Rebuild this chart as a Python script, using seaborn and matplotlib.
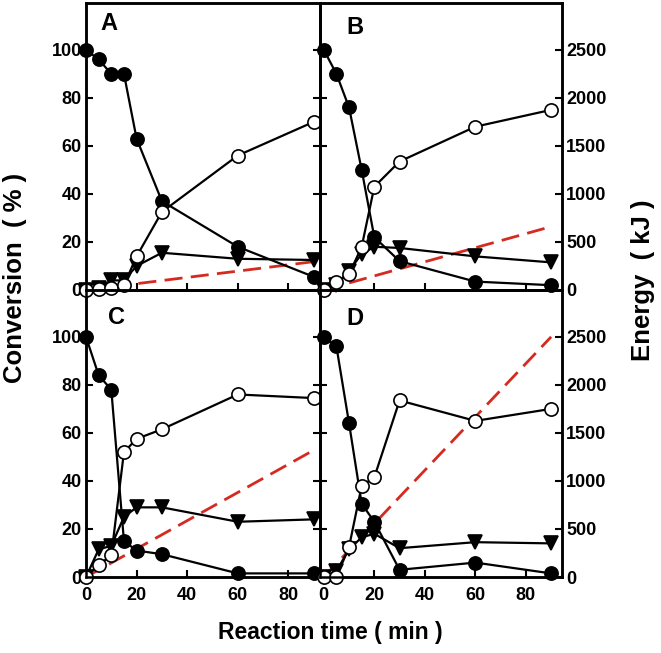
import matplotlib
matplotlib.use("Agg")
import matplotlib.pyplot as plt
import seaborn as sns
import pandas as pd

sns.set_style("ticks")
plt.rcParams['font.family'] = ['Liberation Sans', 'DejaVu Sans']
plt.rcParams['font.weight'] = 'bold'
for k in ("text.color", "axes.labelcolor", "xtick.color", "ytick.color"):
    plt.rcParams[k] = "black"

time = [0, 5, 10, 15, 20, 30, 60, 90]
energy_time = [0, 90]

# panel A
a_filled = [100, 96, 90, 90, 63, 37, 18, 5.5]
a_open = [0, 0.5, 1, 2, 14, 32.5, 56, 70]
a_tri = [0, 1, 4, 4, 10, 15.5, 13, 12.5]
a_energy = [0, 295]
# panel B
b_filled = [100, 90, 76, 50, 22, 12, 3.5, 2]
b_open = [0, 3.5, 6.5, 18, 43, 53.5, 68, 75]
b_tri = [0, 2, 8, 15, 18, 17.5, 14, 11.5]
b_energy = [0, 660]
# panel C
c_filled = [100, 84, 78, 15, 11, 9.5, 1.5, 1.5]
c_open = [0, 5, 9, 52, 57.5, 61.5, 76, 74.5]
c_tri = [0, 11.5, 13, 25, 29, 29, 23, 24]
c_energy = [0, 1320]
# panel D
d_filled = [100, 96, 64, 30.5, 23, 3, 6, 1.5]
d_open = [0, 0, 12.5, 38, 41.5, 73.5, 65, 70]
d_tri = [0, 2.5, 11.5, 16.5, 18, 12, 14.5, 14]
d_energy = [0, 2500]

panels = {
    "A": (a_filled, a_open, a_tri, a_energy),
    "B": (b_filled, b_open, b_tri, b_energy),
    "C": (c_filled, c_open, c_tri, c_energy),
    "D": (d_filled, d_open, d_tri, d_energy),
}

W, H = 661, 653
fig = plt.figure(figsize=(W / 100, H / 100), dpi=100)

# pixel boxes: left, top, right, bottom
boxes = {"A": (86, 3, 320, 290), "B": (320, 3, 562, 290),
         "C": (86, 290, 320, 577), "D": (320, 290, 562, 577)}
xlims = {"A": (0, 92.5), "B": (-1.5, 94.3), "C": (0, 92.5), "D": (-1.5, 94.3)}
letter_pos = {"A": (0.06, 0.93), "B": (0.11, 0.915), "C": (0.094, 0.905), "D": (0.11, 0.90)}
YTOP = 119.5

for key, (filled, opn, tri, en) in panels.items():
    l, t, r, b = boxes[key]
    ax = fig.add_axes([l / W, 1 - b / H, (r - l) / W, (b - t) / H])
    ax2 = ax.twinx()
    ax.set_zorder(ax2.get_zorder() + 1)
    ax.patch.set_visible(False)

    df_e = pd.DataFrame({"t": energy_time, "e": en})
    sns.lineplot(data=df_e, x="t", y="e", ax=ax2, color="#d42a20", lw=2,
                 dashes=False, linestyle=(0, (6.5, 3)))
    for ser, mfc, mk in [(tri, "black", "v"), (filled, "black", "o"), (opn, "white", "o")]:
        df = pd.DataFrame({"t": time, "v": ser})
        sns.lineplot(data=df, x="t", y="v", ax=ax, color="black", lw=1.6,
                     marker=mk, markersize=9.5, markerfacecolor=mfc,
                     markeredgecolor="black", markeredgewidth=1.2)
    for ln in ax.lines + ax2.lines:
        ln.set_clip_on(False)

    ax.set_xlim(*xlims[key])
    ax.set_ylim(0, YTOP)
    ax2.set_ylim(0, YTOP * 25)
    ax.set_xticks([0, 20, 40, 60, 80])
    ax.set_yticks([0, 20, 40, 60, 80, 100])
    ax2.set_yticks([0, 500, 1000, 1500, 2000, 2500])
    ax.set_xlabel("")
    ax.set_ylabel("")
    ax2.set_xlabel("")
    ax2.set_ylabel("")
    for a in (ax, ax2):
        a.tick_params(direction="in", length=5, width=1.5, labelsize=13, pad=3,
                      colors="black")
        for s in a.spines.values():
            s.set_linewidth(1.8)
            s.set_color("black")
            s.set_visible(True)
    ax.tick_params(axis="x", pad=7)
    if key in ("A", "B"):
        ax.tick_params(labelbottom=False)
    if key in ("B", "D"):
        ax.tick_params(labelleft=False)
    else:
        ax2.tick_params(labelright=False)
    for lab in ax.get_xticklabels() + ax.get_yticklabels() + ax2.get_yticklabels():
        lab.set_fontweight("bold")
    lx, ly = letter_pos[key]
    ax.text(lx, ly, key, transform=ax.transAxes, fontsize=17, fontweight="bold",
            ha="left", va="center", color="black")

fig.text(15 / W, 1 - 278 / H, "Conversion  ( % )", rotation=90, ha="center",
         va="center", fontsize=18.5, fontweight="bold", color="black")
fig.text(643 / W, 1 - 280 / H, "Energy  ( kJ )", rotation=90, ha="center",
         va="center", fontsize=18.5, fontweight="bold", color="black")
fig.text(330 / W, 1 - 633 / H, "Reaction time ( min )", ha="center",
         va="center", fontsize=16.5, fontweight="bold", color="black")

fig.savefig("out.png", dpi=100)
